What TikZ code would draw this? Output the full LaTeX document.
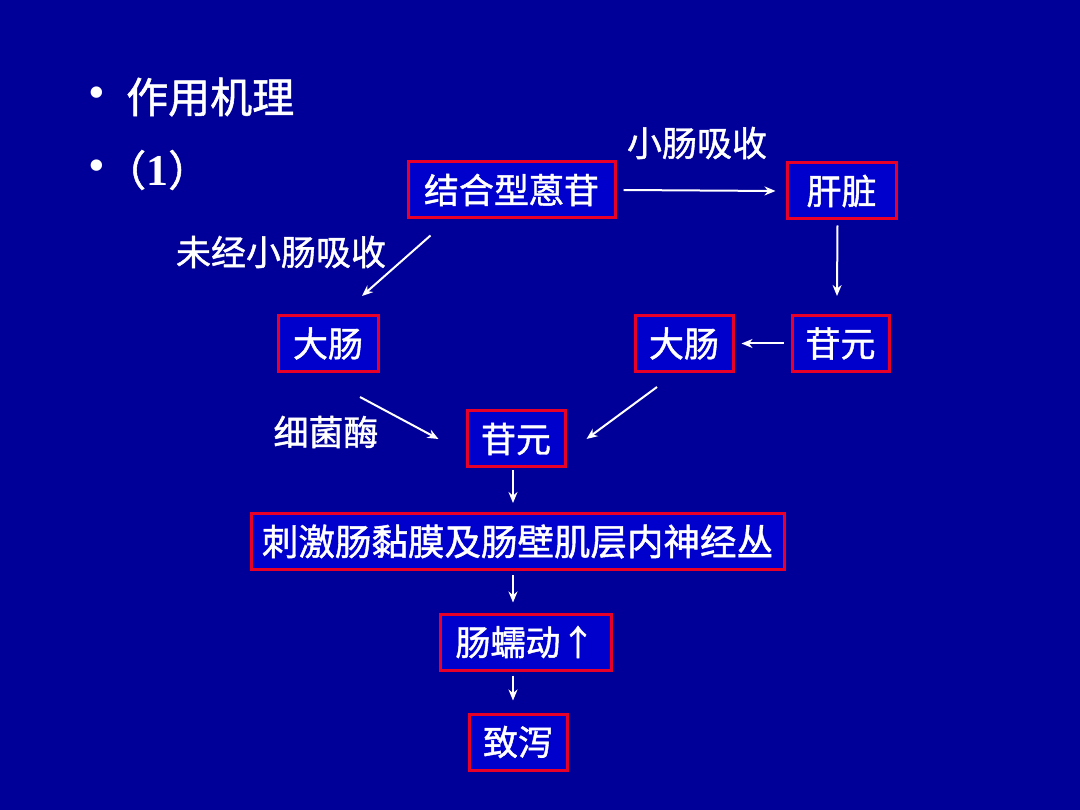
\documentclass[tikz,border=0pt]{standalone}
\usepackage{fontspec}
\setmainfont{Noto Sans CJK SC}[BoldFont={Noto Sans CJK SC}, BoldFeatures={FakeBold=1.2}]
\newfontfamily\latinfont{Liberation Serif}
\usetikzlibrary{arrows.meta}
\definecolor{bg}{RGB}{0,0,153}
\definecolor{boxfill}{RGB}{0,0,204}
\definecolor{boxred}{RGB}{232,0,40}
\begin{document}
\begin{tikzpicture}[x=1pt,y=-1pt,
  box/.style={draw=boxred, line width=3pt, fill=boxfill, text=white,
    font=\fontsize{35}{40}\selectfont\bfseries, inner sep=0pt, minimum height=56pt},
  arr/.style={draw=white, line width=2pt, -{Stealth[length=11pt,width=9pt]}},
  lbl/.style={text=white, font=\fontsize{35}{40}\selectfont\bfseries, inner sep=0pt},
  title/.style={text=white, font=\fontsize{42}{46}\selectfont\bfseries, inner sep=0pt}]
\fill[bg] (0,0) rectangle (1080,810);
\useasboundingbox (0,0) rectangle (1080,810);
% bullets and heading
\node[title] (b1) at (97,97) {\latinfont •};
\node[title, anchor=west] (t1) at (126,97) {作用机理};
\node[title] (b2) at (97,170) {\latinfont •};
\node[title, anchor=west] (t2) at (104,170) {（{\latinfont\fontsize{44}{46}\selectfont 1}）};
% boxes
\node[box, minimum width=207pt] (jh) at (511.5,190) {结合型蒽苷};
\node[box, minimum width=109pt] (gz) at (841.5,191) {肝脏};
\node[box, minimum width=100pt] (dcL) at (328,343.5) {大肠};
\node[box, minimum width=98pt] (dcR) at (684,343.5) {大肠};
\node[box, minimum width=97pt] (gyR) at (840.5,343.5) {苷元};
\node[box, minimum width=98pt] (gyC) at (516,439) {苷元};
\node[box, minimum width=533pt, font=\fontsize{36.5}{40}\selectfont\bfseries] (cj) at (517.5,541.5) {刺激肠黏膜及肠壁肌层内神经丛};
\node[box, minimum width=171pt] (rd) at (525.5,642) {肠蠕动↑};
\node[box, minimum width=98pt] (zx) at (518,742) {致泻};
% labels
\node[lbl] (l1) at (697,143) {小肠吸收};
\node[lbl] (l2) at (281,252) {未经小肠吸收};
\node[lbl] (l3) at (326,432) {细菌酶};
% connectors
\draw[arr] ([xshift=7pt]jh.east) -- ([xshift=-10pt]gz.west);
\draw[arr] ([xshift=-4pt,yshift=-5pt]gz.south) -- ([xshift=-3.5pt,yshift=18pt]gyR.north);
\draw[arr] ([xshift=-7pt]gyR.west) -- ([xshift=7pt]dcR.east);
\draw[arr] ([xshift=24pt,yshift=-16pt]jh.south west) -- ([xshift=34pt,yshift=18pt]dcL.north);
\draw[arr] ([xshift=32pt,yshift=-24pt]dcL.south) -- ([xshift=-27pt]gyC.west);
\draw[arr] ([xshift=-27pt,yshift=-14pt]dcR.south) -- ([xshift=20pt]gyC.east);
\draw[arr] ([xshift=-3pt,yshift=-2pt]gyC.south) -- ([xshift=-4.5pt,yshift=9pt]cj.north);
\draw[arr] ([xshift=-4.5pt,yshift=-4pt]cj.south) -- ([xshift=-12.5pt,yshift=10pt]rd.north);
\draw[arr] ([xshift=-12.5pt,yshift=-4pt]rd.south) -- ([xshift=-5pt,yshift=12pt]zx.north);
\end{tikzpicture}
\end{document}
